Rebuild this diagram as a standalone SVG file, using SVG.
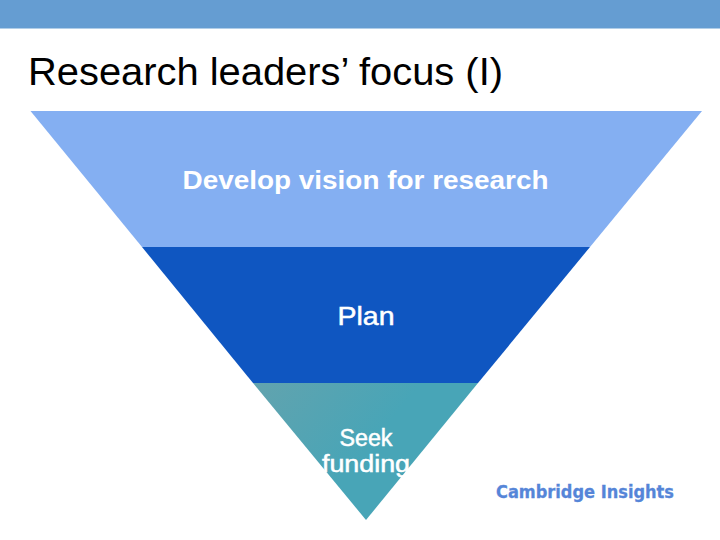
<svg xmlns="http://www.w3.org/2000/svg" width="720" height="540" viewBox="0 0 720 540">
<style>
text{font-family:"Liberation Sans",Arial,sans-serif}
.l{fill:#fff;text-anchor:middle}
.m{stroke:#fff;stroke-width:0.5}
</style>
<defs>
<linearGradient id="g" x1="0" y1="0" x2="1" y2="0.5">
<stop offset="0" stop-color="#62a3ae"/><stop offset="0.6" stop-color="#48a5b7"/>
</linearGradient>
</defs>
<rect width="720" height="540" fill="#fff"/>
<rect id="band" width="720" height="28.5" fill="#659dd2"/>
<text id="title" x="28" y="85" font-size="38" fill="#000" textLength="475" lengthAdjust="spacingAndGlyphs">Research leaders’ focus (I)</text>
<g id="tier1">
<polygon points="30.5,111 702,111 590,247 142,247" fill="#84aff2"/>
<text class="l" x="365.5" y="189" font-size="26.5" font-weight="bold" textLength="366" lengthAdjust="spacingAndGlyphs">Develop vision for research</text>
</g>
<g id="tier2">
<polygon points="142,247 590,247 478,383 253,383" fill="#0f56c1"/>
<text class="l m" x="366" y="325" font-size="26.5" textLength="57" lengthAdjust="spacingAndGlyphs">Plan</text>
</g>
<g id="tier3">
<polygon points="253,383 478,383 366,520" fill="url(#g)"/>
<text class="l m" x="366" y="446" font-size="23" textLength="53" lengthAdjust="spacingAndGlyphs">Seek</text>
<text class="l m" x="366" y="472" font-size="23" textLength="88" lengthAdjust="spacingAndGlyphs">funding</text>
</g>
<text id="logo" x="496" y="498" font-size="18" font-weight="bold" textLength="178" lengthAdjust="spacingAndGlyphs" style="font-family:'DejaVu Sans',sans-serif" fill="#5585d8" stroke="#5585d8" stroke-width="0.3">Cambridge Insights</text>
</svg>
